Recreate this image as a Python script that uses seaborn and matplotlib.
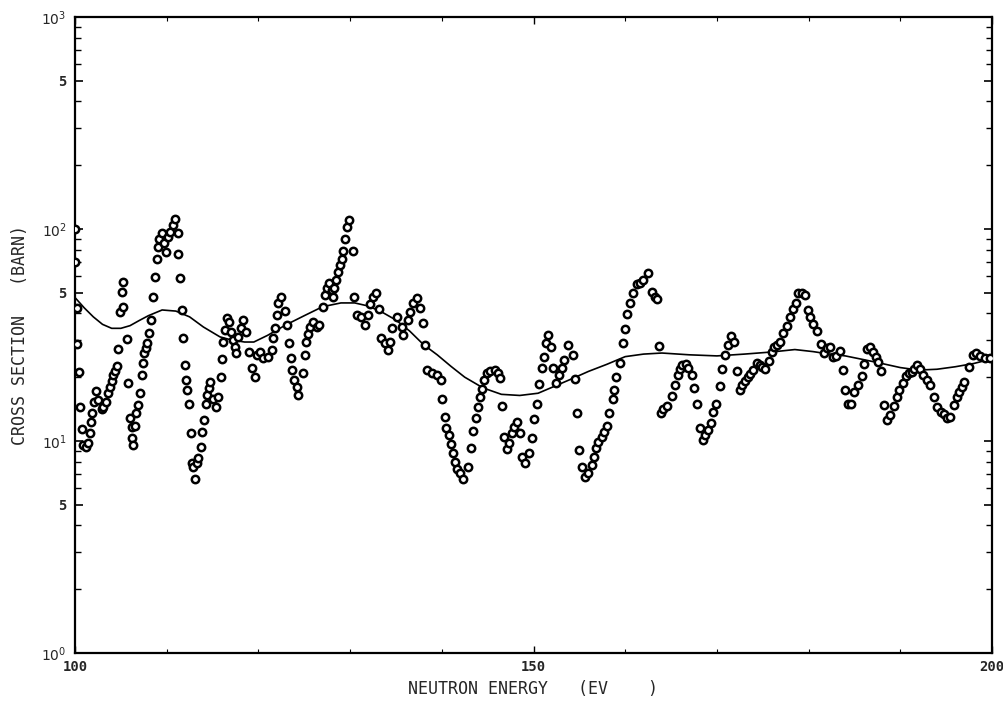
import numpy as np
import pandas as pd
import matplotlib
matplotlib.use("Agg")
import matplotlib.pyplot as plt
import matplotlib.ticker as mticker
import seaborn as sns

# ---- data: measured points (energy in eV, cross section in barn) ----
energy = [
    100.0, 100.0, 100.2, 100.2, 100.4, 100.5, 100.8, 100.9, 101.2, 101.4, 101.6, 101.7, 101.9, 102.1, 102.3,
    102.5, 102.9, 103.1, 103.4, 103.6, 103.8, 104.0, 104.1, 104.4, 104.6, 104.7, 104.9, 105.2, 105.1, 105.2,
    105.7, 105.8, 106.0, 106.2, 106.2, 106.3, 106.5, 106.7, 106.9, 107.1, 107.3, 107.4, 107.5, 107.7, 107.9,
    108.1, 108.3, 108.5, 108.7, 108.9, 109.0, 109.2, 109.5, 109.7, 109.9, 110.1, 110.4, 110.7, 110.9, 111.2,
    111.2, 111.5, 111.7, 111.8, 112.0, 112.1, 112.2, 112.4, 112.6, 112.8, 112.9, 113.1, 113.3, 113.4, 113.7,
    113.9, 114.1, 114.3, 114.4, 114.6, 114.7, 115.1, 115.4, 115.6, 115.9, 116.0, 116.1, 116.4, 116.6, 116.8,
    117.0, 117.2, 117.4, 117.6, 117.8, 118.1, 118.3, 118.6, 119.0, 119.3, 119.6, 119.8, 120.2, 120.5, 121.0,
    121.5, 121.6, 121.8, 122.0, 122.1, 122.5, 122.9, 123.1, 123.3, 123.6, 123.7, 123.9, 124.2, 124.3, 124.9,
    125.1, 125.2, 125.4, 125.6, 126.0, 126.4, 126.6, 127.0, 127.3, 127.5, 127.7, 128.0, 128.1, 128.2, 128.5,
    128.7, 128.9, 129.1, 129.2, 129.4, 129.7, 129.9, 130.3, 130.4, 130.8, 131.2, 131.6, 132.0, 132.2, 132.5,
    132.8, 133.2, 133.4, 133.8, 134.1, 134.4, 134.6, 135.1, 135.7, 135.8, 136.3, 136.5, 136.9, 137.3, 137.6,
    137.9, 138.2, 138.4, 138.9, 139.5, 139.9, 140.0, 140.3, 140.5, 140.8, 141.0, 141.2, 141.4, 141.7, 142.0,
    142.3, 142.9, 143.2, 143.4, 143.7, 143.9, 144.2, 144.4, 144.6, 144.9, 145.3, 145.8, 146.1, 146.4, 146.6,
    146.8, 147.1, 147.3, 147.7, 147.9, 148.2, 148.5, 148.7, 149.1, 149.5, 149.8, 150.1, 150.4, 150.6, 150.9,
    151.1, 151.4, 151.6, 151.9, 152.1, 152.5, 152.8, 153.1, 153.3, 153.8, 154.3, 154.5, 154.7, 155.0, 155.3,
    155.6, 155.9, 156.4, 156.6, 156.8, 157.0, 157.5, 157.7, 158.0, 158.2, 158.7, 158.8, 159.0, 159.4, 159.8,
    160.0, 160.2, 160.5, 160.9, 161.3, 161.6, 161.9, 162.5, 162.9, 163.3, 163.5, 163.7, 163.9, 164.1, 164.6,
    165.1, 165.4, 165.8, 166.0, 166.2, 166.6, 166.8, 167.3, 167.5, 167.8, 168.2, 168.5, 168.7, 169.0, 169.4,
    169.6, 169.9, 170.3, 170.6, 170.9, 171.2, 171.5, 171.9, 172.2, 172.5, 172.7, 173.1, 173.4, 173.6, 173.9,
    174.4, 174.7, 174.9, 175.2, 175.7, 176.0, 176.2, 176.6, 176.9, 177.2, 177.6, 178.0, 178.3, 178.6, 178.8,
    179.3, 179.6, 179.9, 180.2, 180.5, 180.9, 181.4, 181.7, 182.0, 182.3, 182.7, 183.0, 183.4, 183.8, 184.0,
    184.3, 184.6, 184.9, 185.4, 185.8, 186.0, 186.4, 186.7, 187.0, 187.4, 187.6, 187.9, 188.2, 188.6, 188.9,
    189.3, 189.6, 189.9, 190.3, 190.6, 190.9, 191.3, 191.5, 191.8, 192.1, 192.5, 192.9, 193.2, 193.7, 194.0,
    194.4, 194.8, 195.1, 195.4, 195.9, 196.2, 196.4, 196.7, 196.9, 197.5, 197.9, 198.3, 198.7, 199.2, 199.8,
]
cross_section = [
    100, 70, 42.4, 28.7, 21.2, 14.5, 11.4, 9.6, 9.4, 9.8, 10.9, 12.3, 13.5, 15.3, 17.2,
    15.6, 14.2, 14.5, 15.3, 16.8, 18.0, 19.2, 20.5, 21.4, 22.6, 27.2, 40.6, 42.9, 50.4, 56.2,
    30.3, 18.8, 12.8, 11.6, 10.3, 9.6, 11.8, 13.5, 14.8, 16.8, 20.5, 23.3, 26.0, 27.4, 29.0,
    32.3, 37.2, 47.8, 59.4, 72.2, 82.2, 89.7, 95.7, 85.9, 77.9, 91.6, 96.8, 104, 111, 95.7,
    76.2, 58.7, 41.5, 30.6, 22.8, 19.4, 17.4, 15.0, 10.9, 7.9, 7.5, 6.6, 7.9, 8.3, 9.4,
    11.0, 12.6, 15.0, 16.5, 17.8, 19.0, 15.8, 14.5, 16.1, 20.0, 24.4, 29.3, 33.4, 38.0, 36.4,
    32.7, 30.0, 27.7, 26.0, 31.0, 34.1, 37.2, 32.7, 26.3, 22.1, 20.0, 25.5, 26.3, 24.6, 25.0,
    26.9, 30.6, 34.1, 39.3, 44.8, 47.8, 41.0, 35.3, 29.0, 24.6, 21.6, 19.4, 18.0, 16.5, 20.9,
    25.5, 29.3, 32.0, 34.5, 36.4, 34.5, 35.3, 42.9, 48.8, 52.7, 55.6, 51.6, 47.8, 52.7, 57.4,
    62.7, 67.6, 72.2, 78.7, 89.7, 102, 110, 78.7, 47.8, 39.3, 38.5, 35.3, 39.3, 44.3, 47.8,
    49.9, 42.0, 30.6, 29.0, 26.9, 29.3, 34.1, 38.5, 34.5, 31.6, 37.2, 40.6, 44.8, 47.2, 42.4,
    36.0, 28.3, 21.6, 20.9, 20.5, 19.4, 15.8, 13.0, 11.5, 10.7, 9.7, 8.8, 8.0, 7.4, 7.1,
    6.6, 7.5, 9.3, 11.2, 12.8, 14.5, 16.1, 17.6, 19.4, 20.9, 21.4, 21.6, 20.9, 19.8, 14.6,
    10.4, 9.2, 9.8, 10.9, 11.7, 12.3, 10.9, 8.4, 7.9, 8.8, 10.3, 12.7, 15.0, 18.6, 22.1,
    24.9, 29.0, 31.6, 27.7, 22.1, 18.8, 20.5, 22.1, 24.1, 28.3, 25.5, 19.6, 13.6, 9.1, 7.5,
    6.8, 7.1, 7.7, 8.4, 9.3, 9.9, 10.4, 11.0, 11.8, 13.5, 15.8, 17.4, 20.0, 23.3, 29.0,
    33.8, 39.7, 44.8, 49.9, 55.0, 55.6, 57.4, 62.0, 50.4, 47.8, 46.8, 28.0, 13.5, 14.2, 14.6,
    16.3, 18.4, 20.5, 21.8, 22.8, 23.0, 22.1, 20.5, 17.8, 15.0, 11.5, 10.1, 10.7, 11.3, 12.2,
    13.7, 15.0, 18.2, 21.8, 25.5, 28.3, 31.3, 29.3, 21.4, 17.4, 18.4, 19.2, 20.0, 20.7, 21.6,
    23.3, 22.8, 22.3, 21.8, 23.8, 26.3, 27.7, 28.3, 29.3, 32.3, 34.8, 38.5, 42.0, 44.8, 49.9,
    49.9, 48.8, 41.5, 38.5, 35.5, 33.0, 28.6, 26.0, 27.4, 27.7, 24.9, 25.2, 26.6, 21.6, 17.4,
    15.0, 15.0, 17.0, 18.4, 20.2, 23.0, 27.2, 27.7, 26.3, 24.9, 23.5, 21.4, 14.8, 12.6, 13.3,
    14.6, 16.1, 17.4, 18.8, 20.2, 20.9, 21.2, 21.8, 22.8, 21.8, 20.5, 19.4, 18.4, 16.1, 14.5,
    13.7, 13.4, 12.8, 13.0, 14.8, 16.1, 17.0, 18.0, 19.0, 22.3, 25.5, 26.0, 25.2, 24.6, 24.6,
]

# ---- data: smooth (averaged) curve ----
curve_energy = [
    100, 101, 102, 103, 104, 105, 106, 107, 108, 109.5, 111, 112.5, 114, 115.8, 117, 118.5,
    119.5, 121, 123, 125, 127, 129, 130.5, 132, 133.5, 135, 136.5, 138, 139.5, 141, 142.5,
    144.5, 146.5, 148.5, 150.5, 152, 154, 156, 158, 160, 162, 164, 167, 170, 173, 176,
    178.5, 180.5, 182, 184, 186, 188, 190, 192, 194, 196, 198, 200,
]
curve_xs = [
    47.5, 42.5, 38.5, 35.5, 34.0, 34.0, 35.0, 37.0, 39.0, 41.5, 41.0, 38.5, 34.5, 31.0, 30.0, 29.3,
    29.3, 31.5, 35.3, 39.0, 43.0, 44.8, 44.8, 43.3, 40.5, 37.2, 33.0, 28.5, 25.5, 22.5, 20.0,
    17.8, 16.6, 16.4, 16.8, 17.9, 19.5, 21.3, 23.0, 25.0, 25.7, 26.0, 25.5, 25.2, 25.7, 26.3,
    27.0, 26.4, 25.8, 25.2, 24.2, 23.2, 22.2, 21.6, 21.8, 22.4, 23.2, 24.4,
]

# ---- axis tick definitions ----
y_tick_values = [1, 5, 10, 50, 100, 500, 1000]
y_tick_labels = ["$10^0$", "5", "$10^1$", "5", "$10^2$", "5", "$10^3$"]
x_tick_values = [100, 150, 200]
x_tick_labels = ["100", "150", "200"]

points = pd.DataFrame({"energy": energy, "xs": cross_section})
curve = pd.DataFrame({"energy": curve_energy, "xs": curve_xs})

sns.set_style("white")
plt.rcParams["font.family"] = ["DejaVu Sans Mono", "DejaVu Sans"]
plt.rcParams["mathtext.fontset"] = "dejavusans"

fig = plt.figure(figsize=(10.04, 7.01), dpi=100)
ax = fig.add_axes([75 / 1004, 48 / 701, (992 - 75) / 1004, (653 - 17) / 701])

sns.lineplot(data=curve, x="energy", y="xs", ax=ax, color="black", linewidth=1.2,
             sort=True, estimator=None)
sns.scatterplot(data=points, x="energy", y="xs", ax=ax, marker="o", s=28,
                facecolor="white", edgecolor="black", linewidth=1.8, zorder=3)

ax.set_yscale("log")
ax.set_xlim(100, 200)
ax.set_ylim(1, 1000)

ax.yaxis.set_major_locator(mticker.FixedLocator(y_tick_values))
ax.yaxis.set_major_formatter(mticker.FixedFormatter(y_tick_labels))
ax.yaxis.set_minor_locator(mticker.LogLocator(base=10, subs=[2, 3, 4, 6, 7, 8, 9]))
ax.yaxis.set_minor_formatter(mticker.NullFormatter())
ax.xaxis.set_major_locator(mticker.FixedLocator(x_tick_values))
ax.xaxis.set_major_formatter(mticker.FixedFormatter(x_tick_labels))
ax.xaxis.set_minor_locator(mticker.MultipleLocator(10))

ax.tick_params(axis="both", which="both", direction="in", top=True, right=True,
               bottom=True, left=True, color="black")
ax.tick_params(axis="y", which="major", length=6, width=1.2, labelsize=10, pad=6)
ax.tick_params(axis="y", which="minor", length=4, width=1.0)
ax.tick_params(axis="x", which="major", length=5, width=1.0, labelsize=10, pad=5)
ax.tick_params(axis="x", which="minor", length=3, width=0.8)
for lab in ax.get_xticklabels() + ax.get_yticklabels():
    lab.set_fontweight("bold")

for spine in ax.spines.values():
    spine.set_visible(True)
    spine.set_color("black")
    spine.set_linewidth(1.6)

ax.set_xlabel("NEUTRON ENERGY   (EV    )", fontsize=12, labelpad=4)
ax.set_ylabel("CROSS SECTION   (BARN)", fontsize=12, labelpad=9)
ax.grid(False)

fig.savefig("out.png", dpi=100, facecolor="white")
